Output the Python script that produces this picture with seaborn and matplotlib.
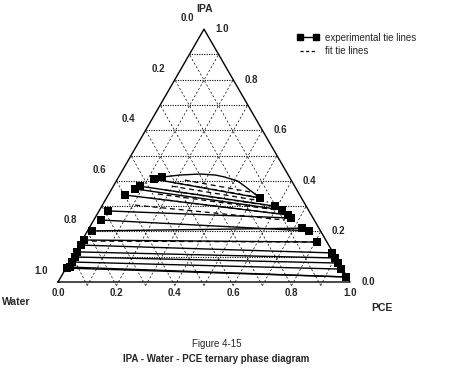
import numpy as np
import pandas as pd
import matplotlib
matplotlib.use("Agg")
import matplotlib.pyplot as plt
from matplotlib.lines import Line2D
import seaborn as sns

# compositions (mass fractions)
# water-rich phase ends of the experimental tie lines
left_ipa = [0.407, 0.379, 0.368, 0.344, 0.281, 0.245, 0.202, 0.166, 0.146, 0.119, 0.099, 0.079, 0.059, 0.055]
left_pce = [0.125, 0.091, 0.080, 0.057, 0.031, 0.025, 0.015, 0.005, 0.006, 0.006, 0.008, 0.010, 0.010, 0.003]
# PCE-rich phase ends
right_ipa = [0.332, 0.300, 0.285, 0.265, 0.253, 0.202, 0.213, 0.158, 0.115, 0.095, 0.075, 0.051, 0.020, 0.020]
right_pce = [0.526, 0.593, 0.625, 0.655, 0.671, 0.759, 0.729, 0.808, 0.881, 0.901, 0.921, 0.945, 0.975, 0.975]
# top tie line, drawn curved in the original
arch_ipa = [0.415, 0.423, 0.427, 0.423, 0.415, 0.399, 0.379, 0.332]
arch_pce = [0.149, 0.206, 0.273, 0.327, 0.364, 0.416, 0.450, 0.526]

# fitted tie lines
fit_left_ipa = [0.403, 0.391, 0.379, 0.364, 0.348, 0.332, 0.304, 0.162]
fit_left_pce = [0.233, 0.215, 0.200, 0.184, 0.168, 0.149, 0.112, 0.005]
fit_right_ipa = [0.356, 0.332, 0.316, 0.300, 0.285, 0.269, 0.245, 0.158]
fit_right_pce = [0.480, 0.533, 0.561, 0.583, 0.605, 0.626, 0.655, 0.808]

tick_values = [0.0, 0.2, 0.4, 0.6, 0.8, 1.0]
grid_values = [0.1, 0.2, 0.3, 0.4, 0.5, 0.6, 0.7, 0.8, 0.9]

H = np.sqrt(3) / 2
FONT = ["Liberation Sans", "DejaVu Sans"]


def to_xy(ipa, pce):
    ipa = np.asarray(ipa, dtype=float)
    pce = np.asarray(pce, dtype=float)
    return pce + ipa / 2, ipa * H


def build_frame(l_ipa, l_pce, r_ipa, r_pce):
    rows = []
    for i in range(len(l_ipa)):
        for ipa, pce in [(l_ipa[i], l_pce[i]), (r_ipa[i], r_pce[i])]:
            x, y = to_xy(ipa, pce)
            rows.append({"tie": i, "x": float(x), "y": float(y)})
    return pd.DataFrame(rows)


sns.set_theme(style="white")
plt.rcParams["font.family"] = FONT

fig = plt.figure(figsize=(4.55, 3.91), dpi=100)
ax = fig.add_axes([0, 0, 1, 1])
# map the triangle to the same pixels as the reference
ax.set_xlim(-58 / 292, 397 / 292)
ax.set_ylim(-109 / 292, 282 / 292)
ax.axis("off")

# grid: horizontal IPA lines dotted, the two other families dashed
for v in grid_values:
    x0, y0 = to_xy(v, 0.0)
    x1, y1 = to_xy(v, 1 - v)
    ax.plot([x0, x1], [y0, y1], color="black", lw=0.8, ls=(0, (1, 1.2)), zorder=1)
    # constant PCE
    xa, ya = to_xy(0.0, v)
    xb, yb = to_xy(1 - v, v)
    ax.plot([xa, xb], [ya - 0.012, yb], color="black", lw=0.5, ls=(0, (3, 3)), zorder=1)
    # constant water
    xa, ya = to_xy(0.0, 1 - v)
    xb, yb = to_xy(1 - v, 0.0)
    ax.plot([xa, xb], [ya - 0.012, yb], color="black", lw=0.5, ls=(0, (3, 3)), zorder=1)

# triangle
tx, ty = to_xy([0, 0, 1, 0], [0, 1, 0, 0])
ax.plot(tx, ty, color="black", lw=1.0, zorder=2)

# fitted tie lines
fit_df = build_frame(fit_left_ipa, fit_left_pce, fit_right_ipa, fit_right_pce)
sns.lineplot(data=fit_df, x="x", y="y", units="tie", estimator=None, sort=False,
             color="black", lw=0.9, dashes=False, ax=ax, zorder=3)
for line in ax.lines[-len(fit_left_ipa):]:
    line.set_linestyle((0, (4, 3)))

# experimental tie lines
exp_df = build_frame(left_ipa, left_pce, right_ipa, right_pce)
sns.lineplot(data=exp_df, x="x", y="y", units="tie", estimator=None, sort=False,
             color="black", lw=1.0, ax=ax, zorder=4)
ax_, ay_ = to_xy(arch_ipa, arch_pce)
sns.lineplot(x=ax_, y=ay_, sort=False, color="black", lw=1.0, ax=ax, zorder=4)

mx, my = to_xy(left_ipa + right_ipa + [arch_ipa[0]], left_pce + right_pce + [arch_pce[0]])
sns.scatterplot(x=mx, y=my, marker="s", s=34, color="black", edgecolor="black",
                linewidth=0, ax=ax, zorder=5)

# tick labels
tick_kw = dict(textcoords="offset points", fontsize=7, fontweight="bold", va="center")
for v in tick_values:
    # water (left side): 0 at apex, 1 at water corner
    x, y = to_xy(1 - v, 0.0)
    ax.annotate(f"{v:.1f}", (x, y), xytext=(-12, 8), ha="center", **tick_kw)
    # IPA (right side)
    x, y = to_xy(v, 1 - v)
    ax.annotate(f"{v:.1f}", (x, y), xytext=(13, 0), ha="center", **tick_kw)
    # PCE (bottom)
    x, y = to_xy(0.0, v)
    ax.annotate(f"{v:.1f}", (x, y), xytext=(0, -8), ha="center", **tick_kw)

# corner names and caption
fig.text(205 / 455, 1 - 9 / 391, "IPA", fontsize=7.5, fontweight="bold", ha="center", va="center")
fig.text(16 / 455, 1 - 302 / 391, "Water", fontsize=7.5, fontweight="bold", ha="center", va="center")
fig.text(382 / 455, 1 - 308 / 391, "PCE", fontsize=7.5, fontweight="bold", ha="center", va="center")
fig.text(217 / 455, 1 - 344 / 391, "Figure 4-15", fontsize=7, ha="center", va="center")
fig.text(216 / 455, 1 - 359 / 391, "IPA - Water - PCE ternary phase diagram", fontsize=7,
         fontweight="bold", ha="center", va="center")

handles = [
    Line2D([], [], color="black", lw=1.0, marker="s", markersize=5),
    Line2D([], [], color="black", lw=0.9, ls=(0, (2.5, 2))),
]
ax.legend(handles, ["experimental tie lines", "fit tie lines"], loc="upper left",
          bbox_to_anchor=(292 / 455, 1 - 28 / 391), bbox_transform=fig.transFigure,
          frameon=False, numpoints=2, handlelength=2.3, handletextpad=0.6,
          labelspacing=0.35, borderpad=0, prop={"size": 7, "family": FONT})

fig.savefig("out.png", dpi=100)
